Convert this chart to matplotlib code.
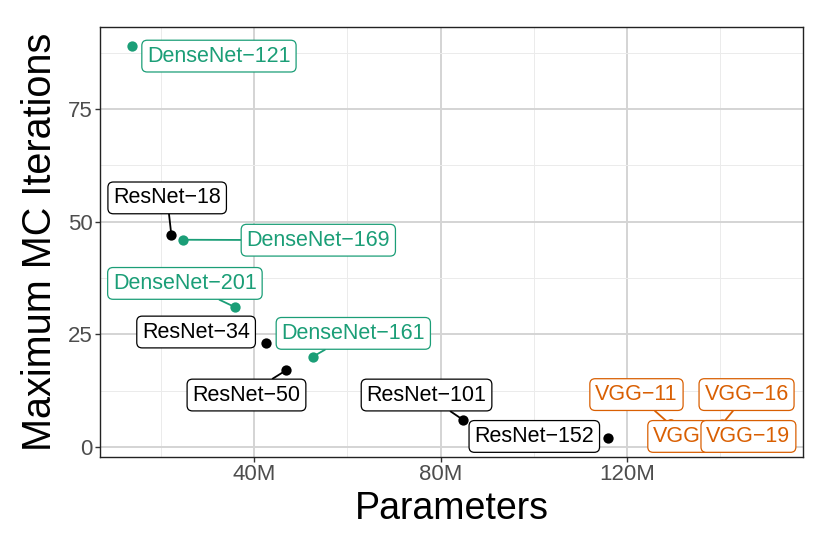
import matplotlib
matplotlib.use("Agg")
import matplotlib.pyplot as plt
from matplotlib.ticker import FixedLocator

plt.rcParams['font.family'] = ['Liberation Sans', 'DejaVu Sans']

# ---- data ----
models = ["DenseNet−121", "ResNet−18", "DenseNet−169", "DenseNet−201", "ResNet−34",
          "DenseNet−161", "ResNet−50", "ResNet−101", "ResNet−152",
          "VGG−11", "VGG−13", "VGG−16", "VGG−19"]
family = ["DenseNet", "ResNet", "DenseNet", "DenseNet", "ResNet",
          "DenseNet", "ResNet", "ResNet", "ResNet",
          "VGG", "VGG", "VGG", "VGG"]
params_m = [13.8, 22.3, 24.8, 36.0, 42.5, 52.6, 46.9, 84.8, 116.0,
            129.2, 129.5, 140.3, 145.0]
max_iter = [89, 47, 46, 31, 23, 20, 17, 6, 2, 5, 5, 5, 3]

x_ticks = [40, 80, 120]
x_tick_labels = ["40M", "80M", "120M"]
y_ticks = [0, 25, 50, 75]

# ---- layout / style (label placement, as repelled in the reference) ----
label_pos = {
    "DenseNet−121": (32.5, 86.8),
    "ResNet−18": (21.4, 55.3),
    "DenseNet−169": (53.8, 45.9),
    "DenseNet−201": (25.2, 36.3),
    "ResNet−34": (27.6, 25.5),
    "DenseNet−161": (61.3, 25.2),
    "ResNet−50": (38.4, 11.5),
    "ResNet−101": (77.0, 11.5),
    "ResNet−152": (100.1, 2.3),
    "VGG−11": (122.0, 11.6),
    "VGG−16": (145.6, 11.6),
    "VGG−13": (134.6, 2.3),
    "VGG−19": (146.0, 2.3),
}
no_segment = {"DenseNet−121", "ResNet−34", "ResNet−152"}
colors = {"ResNet": "#000000", "DenseNet": "#1B9E77", "VGG": "#D95F02"}

fig = plt.figure(figsize=(8.3, 5.54), dpi=100)
ax = fig.add_axes([100 / 830, 1 - 456.7 / 554, (803 - 100) / 830, (456.7 - 27.3) / 554])

ax.set_xlim(7.0, 157.7)
ax.set_ylim(-2.2, 93.2)

ax.xaxis.set_major_locator(FixedLocator(x_ticks))
ax.set_xticklabels(x_tick_labels)
ax.xaxis.set_minor_locator(FixedLocator([20, 60, 100, 140]))
ax.yaxis.set_major_locator(FixedLocator(y_ticks))
ax.yaxis.set_minor_locator(FixedLocator([12.5, 37.5, 62.5, 87.5]))

ax.grid(which='major', color='#D4D4D4', linewidth=1.4, zorder=0)
ax.grid(which='minor', color='#EBEBEB', linewidth=0.7, zorder=0)
ax.set_axisbelow(True)
ax.tick_params(which='major', length=3.5, width=1.0, color='#333333',
               labelsize=16, labelcolor='#4D4D4D', pad=2)
ax.tick_params(which='minor', length=0)
for s in ax.spines.values():
    s.set_color('#222222')
    s.set_linewidth(1.0)

for name, fam, x, y in zip(models, family, params_m, max_iter):
    c = colors[fam]
    ax.scatter([x], [y], s=55, color=c, zorder=3, linewidths=0)

for name, fam, x, y in zip(models, family, params_m, max_iter):
    c = colors[fam]
    tx, ty = label_pos[name]
    arrow = None if name in no_segment else dict(arrowstyle='-', color=c, lw=1.3,
                                                  shrinkA=0, shrinkB=0)
    ax.annotate(name, xy=(x, y), xytext=(tx, ty), textcoords='data',
                ha='center', va='center', fontsize=15.5, color=c,
                bbox=dict(boxstyle='round,pad=0.25,rounding_size=0.25',
                          fc='white', ec=c, lw=0.9),
                arrowprops=arrow, zorder=4)

ax.set_xlabel("Parameters", fontsize=27, labelpad=4)
ax.set_ylabel("Maximum MC Iterations", fontsize=28.5, labelpad=6)

fig.savefig("out.png", dpi=100)
